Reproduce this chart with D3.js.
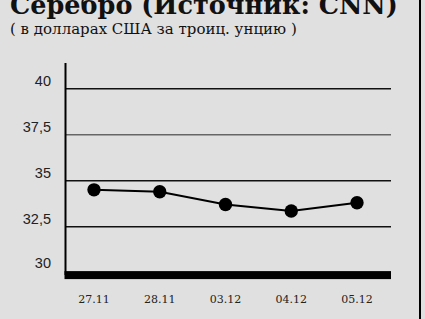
<!DOCTYPE html>
<html>
<head>
<meta charset="utf-8">
<script src="https://d3js.org/d3.v7.min.js"></script>
<style>
  body { margin: 0; background: #e0e0e0; }
  svg { display: block; }
</style>
</head>
<body>
<div id="svg"></div>
<script>
// data
var dates = ["27.11", "28.11", "03.12", "04.12", "05.12"];
var prices = [34.5, 34.4, 33.7, 33.35, 33.8];
var yTicks = [30, 32.5, 35, 37.5, 40];
var yTickLabels = ["30", "32,5", "35", "37,5", "40"];

var W = 425, H = 319;
var svg = d3.select("#svg").append("svg")
    .attr("width", W).attr("height", H);

svg.append("rect").attr("width", W).attr("height", H).attr("fill", "#e0e0e0");

// right border
svg.append("line")
    .attr("x1", 420).attr("x2", 420).attr("y1", 0).attr("y2", H)
    .attr("stroke", "#000").attr("stroke-width", 2);

// title (top is clipped in the original too)
svg.append("text")
    .attr("x", 10).attr("y", 14)
    .attr("font-family", "DejaVu Serif").attr("font-weight", "bold")
    .attr("font-size", 25.5).attr("fill", "#111")
    .text("Серебро (Источник: CNN)");
svg.append("text")
    .attr("x", 10).attr("y", 34)
    .attr("font-family", "DejaVu Serif")
    .attr("font-size", 15).attr("fill", "#111")
    .text("( в долларах США за троиц. унцию )");

var left = 65, right = 391;

var x = d3.scalePoint()
    .domain(dates)
    .range([94, 357]);

var y = d3.scaleLinear()
    .domain([30, 40])
    .range([272.6, 88.7]);

// grid lines
svg.selectAll(".grid")
    .data(yTicks.filter(function(d) { return d > 30; }))
    .enter().append("line")
    .attr("x1", left).attr("x2", right)
    .attr("y1", function(d) { return y(d); })
    .attr("y2", function(d) { return y(d); })
    .attr("stroke", function(d) { return d == 37.5 ? "#666" : "#111"; })
    .attr("stroke-width", 1.5);

// tick labels (sit just above their line)
svg.selectAll(".ylab")
    .data(yTicks)
    .enter().append("text")
    .attr("x", 51)
    .attr("y", function(d) { return y(d) - (d == 30 ? 5 : 3); })
    .attr("text-anchor", "end")
    .attr("font-family", "Liberation Sans")
    .attr("font-size", 14.5).attr("fill", "#222")
    .text(function(d, i) { return yTickLabels[i]; });

// vertical axis
svg.append("line")
    .attr("x1", 65.5).attr("x2", 65.5).attr("y1", 63).attr("y2", 275)
    .attr("stroke", "#000").attr("stroke-width", 2);

// thick baseline
svg.append("rect")
    .attr("x", 64.5).attr("y", y(30) - 1.5)
    .attr("width", right - 64.5).attr("height", 8)
    .attr("fill", "#000");

// x labels
svg.selectAll(".xlab")
    .data(dates)
    .enter().append("text")
    .attr("x", function(d) { return x(d); })
    .attr("y", 302.5)
    .attr("text-anchor", "middle")
    .attr("font-family", "DejaVu Serif")
    .attr("font-size", 11).attr("fill", "#222")
    .text(function(d) { return d; });

// line
var line = d3.line()
    .x(function(d, i) { return x(dates[i]); })
    .y(function(d) { return y(d); });

svg.append("path")
    .datum(prices)
    .attr("d", line)
    .attr("fill", "none")
    .attr("stroke", "#000")
    .attr("stroke-width", 2);

svg.selectAll(".dot")
    .data(prices)
    .enter().append("circle")
    .attr("cx", function(d, i) { return x(dates[i]); })
    .attr("cy", function(d) { return y(d); })
    .attr("r", 6.7)
    .attr("fill", "#000");
</script>
</body>
</html>
